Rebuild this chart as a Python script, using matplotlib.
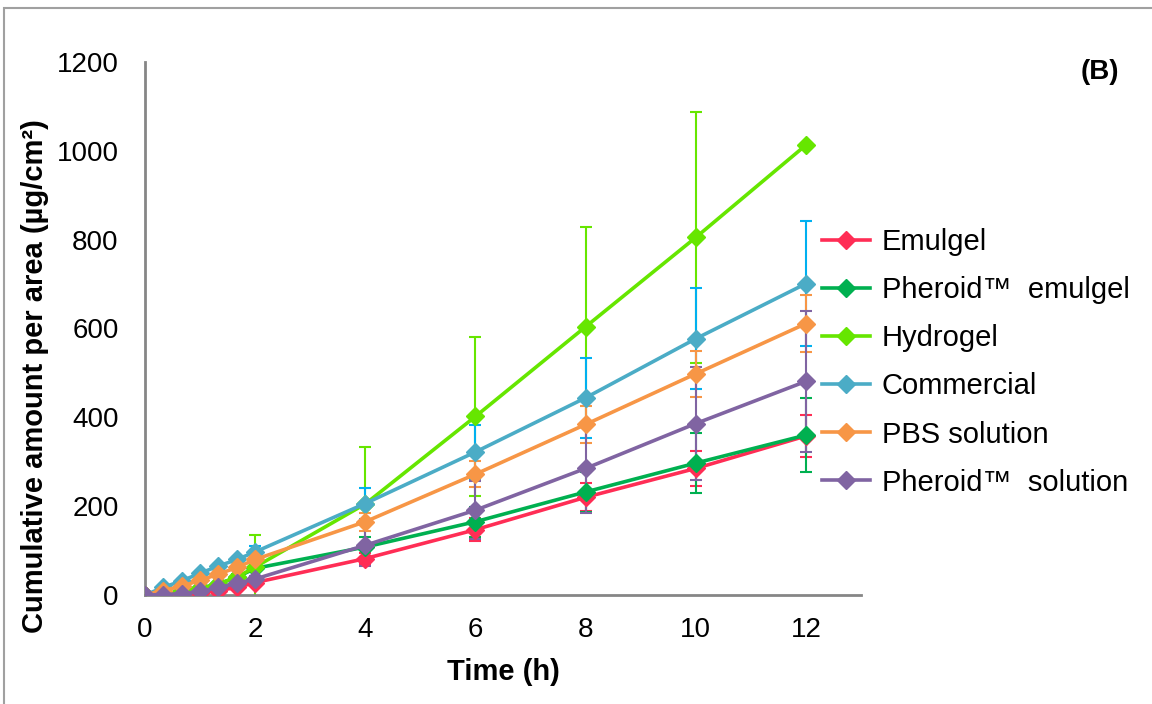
import matplotlib
matplotlib.use("Agg")
import matplotlib.pyplot as plt
from matplotlib.patches import Rectangle

plt.rcParams["font.family"] = ["Liberation Sans", "DejaVu Sans"]

# sampling times (h)
time_h = [0, 0.33, 0.67, 1, 1.33, 1.67, 2, 4, 6, 8, 10, 12]

series_names = ["Emulgel", "Pheroid\u2122  emulgel", "Hydrogel", "Commercial",
                "PBS solution", "Pheroid\u2122  solution"]

emulgel = [0, 1, 2, 5, 10, 17, 28, 82, 147, 220, 285, 358]
emulgel_err = [0, 0, 0, 1, 2, 3, 4, 13, 26, 32, 40, 48]

pheroid_emulgel = [0, 3, 8, 15, 25, 40, 60, 108, 165, 232, 297, 360]
pheroid_emulgel_err = [0, 1, 1, 2, 3, 4, 6, 23, 34, 45, 67, 83]

hydrogel = [0, 3, 8, 15, 25, 40, 63, 205, 402, 604, 805, 1013]
hydrogel_err = [0, 1, 2, 3, 5, 8, 73, 128, 178, 225, 283, 0]

commercial = [0, 17, 32, 49, 65, 80, 97, 206, 322, 444, 577, 701]
commercial_err = [0, 2, 3, 4, 5, 6, 14, 35, 61, 90, 114, 140]

pbs_solution = [0, 10, 20, 33, 47, 62, 80, 165, 272, 384, 498, 611]
pbs_solution_err = [0, 1, 2, 3, 4, 5, 8, 20, 29, 41, 52, 65]

pheroid_solution = [0, 1, 3, 8, 17, 26, 36, 112, 191, 285, 386, 481]
pheroid_solution_err = [0, 1, 1, 2, 3, 4, 6, 47, 65, 101, 128, 158]

values = [emulgel, pheroid_emulgel, hydrogel, commercial, pbs_solution, pheroid_solution]
errors = [emulgel_err, pheroid_emulgel_err, hydrogel_err, commercial_err,
          pbs_solution_err, pheroid_solution_err]
line_colors = ["#FF2D55", "#00B050", "#66E600", "#4BACC6", "#F79646", "#8064A2"]
err_colors = ["#FF2D55", "#00B050", "#66E600", "#00B0F0", "#F79646", "#8064A2"]

W, H = 1152, 704
fig = plt.figure(figsize=(W / 100, H / 100), dpi=100)
ax = fig.add_axes([145 / W, 1 - 595 / H, (861 - 145) / W, (595 - 62) / H])

for name, ys, es, lc, ec in zip(series_names, values, errors, line_colors, err_colors):
    ax.errorbar(time_h, ys, yerr=es, fmt="none", ecolor=ec, elinewidth=1.5,
                capsize=4, capthick=1.5, zorder=2)
    ax.plot(time_h, ys, color=lc, lw=2.6, marker="D", ms=9, label=name, zorder=3)

ax.set_xlim(0, 13)
ax.set_ylim(0, 1200)
ax.set_xticks(range(0, 13, 2))
ax.set_yticks(range(0, 1201, 200))
ax.tick_params(length=0, labelsize=20)
ax.tick_params(axis="y", pad=19)
ax.tick_params(axis="x", pad=16)
for s in ["top", "right"]:
    ax.spines[s].set_visible(False)
for s in ["left", "bottom"]:
    ax.spines[s].set_color("#868686")
    ax.spines[s].set_linewidth(2)

fig.text(503 / W, 1 - 672 / H, "Time (h)", fontsize=21, fontweight="bold",
         ha="center", va="center")
fig.text(35 / W, 1 - 376 / H, "Cumulative amount per area (\u00b5g/cm\u00b2)",
         fontsize=21, fontweight="bold", rotation=90, ha="center", va="center")

ax.legend(loc="upper left", bbox_to_anchor=(0.9455, 0.6885), frameon=False,
          fontsize=21, handlelength=1.65, handletextpad=0.4, labelspacing=0.69,
          borderaxespad=0, borderpad=0)

fig.text(1100 / W, 1 - 72 / H, "(B)", fontsize=20, fontweight="bold",
         ha="center", va="center")

# outer chart border (only left/top fall inside the image)
fig.patches.append(Rectangle((4 / W, -0.05), 1.2, 1.05 - 8 / H,
                             transform=fig.transFigure, fill=False,
                             edgecolor="#A0A0A0", lw=1.5))

fig.savefig("out.png", dpi=100)
